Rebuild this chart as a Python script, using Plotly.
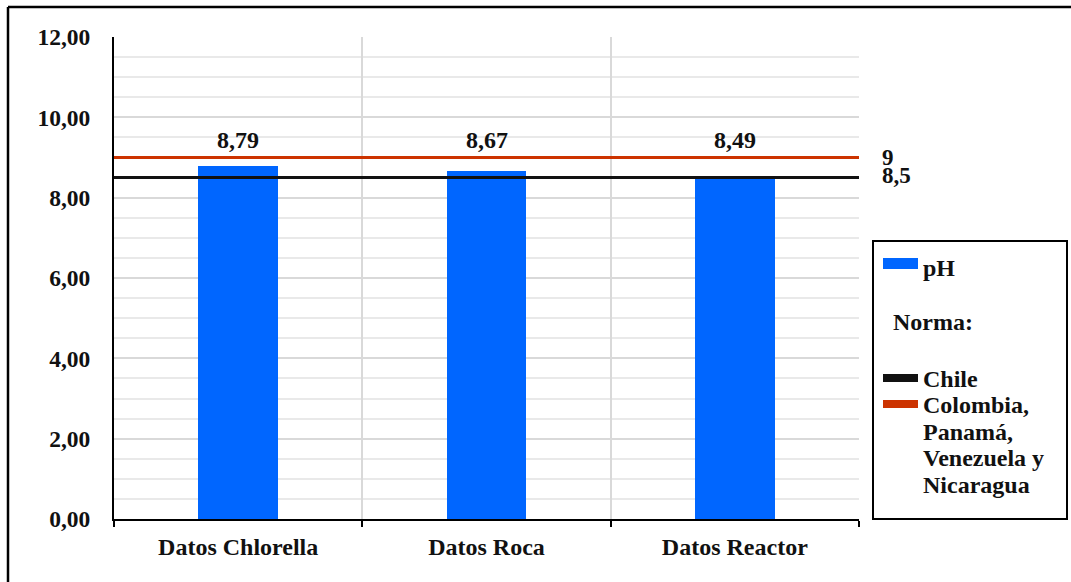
import plotly.graph_objects as go

# Datos de pH por fuente
categorias = ["Datos Chlorella", "Datos Roca", "Datos Reactor"]
ph_valores = [8.79, 8.67, 8.49]

# Límites de la norma
norma_nombres = [["Chile"], ["Colombia,", "Panamá,", "Venezuela y", "Nicaragua"]]
norma_valores = [8.5, 9.0]
norma_colores = ["#111111", "#CC3300"]

y_ticks = [0, 2, 4, 6, 8, 10, 12]

AZUL = "#0066FF"
FONT = "Liberation Serif"
TXT = "#111111"

W, H = 1071, 582
ML, MR, MT, MB = 114, 212, 37, 63
PW, PH = W - ML - MR, H - MT - MB


def px_x(px):
    return (px - ML) / PW


def px_y(py):
    return (H - MB - py) / PH


def fmt(v, dec=2):
    return f"{v:.{dec}f}".replace(".", ",")


def bold(s):
    return f"<b>{s}</b>"


fig = go.Figure()
fig.add_trace(go.Bar(
    x=categorias, y=ph_valores, width=0.32,
    marker=dict(color=AZUL, line=dict(width=0)),
    name="pH", showlegend=False,
))

# Etiquetas de valor sobre las barras
for c, v in zip(categorias, ph_valores):
    fig.add_annotation(x=c, y=9.43, text=bold(fmt(v)), showarrow=False,
                       yanchor="middle", xanchor="center",
                       font=dict(family=FONT, size=24, color=TXT))

shapes = []
# Líneas de la norma y sus valores a la derecha
for v, col in zip(norma_valores, norma_colores):
    shapes.append(dict(type="line", xref="paper", yref="y", x0=0, x1=1, y0=v, y1=v,
                       line=dict(color=col, width=3), layer="above"))
    fig.add_annotation(xref="paper", yref="y", x=px_x(880), y=v,
                       text=bold(f"{v:g}".replace(".", ",")), showarrow=False,
                       xanchor="left", yanchor="middle",
                       yshift=0 if v > 8.75 else 2,
                       font=dict(family=FONT, size=23, color=TXT))

# Marco exterior
shapes.append(dict(type="line", xref="paper", yref="paper",
                   x0=px_x(8), x1=px_x(1080), y0=px_y(7), y1=px_y(7),
                   line=dict(color="black", width=2.5)))
shapes.append(dict(type="line", xref="paper", yref="paper",
                   x0=px_x(8), x1=px_x(8), y0=px_y(7), y1=px_y(600),
                   line=dict(color="black", width=2.5)))

# Leyenda
shapes.append(dict(type="rect", xref="paper", yref="paper",
                   x0=px_x(873), x1=px_x(1067), y0=px_y(519), y1=px_y(241),
                   line=dict(color="black", width=2), fillcolor="white"))
shapes.append(dict(type="rect", xref="paper", yref="paper",
                   x0=px_x(883), x1=px_x(918), y0=px_y(269), y1=px_y(258),
                   line=dict(width=0), fillcolor=AZUL))

leg_font = dict(family=FONT, size=24, color=TXT)
fig.add_annotation(xref="paper", yref="paper", x=px_x(921), y=px_y(268), text=bold("pH"),
                   showarrow=False, xanchor="left", yanchor="middle", font=leg_font)
fig.add_annotation(xref="paper", yref="paper", x=px_x(891), y=px_y(322), text=bold("Norma:"),
                   showarrow=False, xanchor="left", yanchor="middle", font=leg_font)

sw_y = [378, 404]
line_step = 26.7
for yy, lines, col in zip(sw_y, norma_nombres, norma_colores):
    shapes.append(dict(type="rect", xref="paper", yref="paper",
                       x0=px_x(883), x1=px_x(918), y0=px_y(yy + 4), y1=px_y(yy - 4),
                       line=dict(width=0), fillcolor=col))
    for k, ln in enumerate(lines):
        fig.add_annotation(xref="paper", yref="paper", x=px_x(921),
                           y=px_y(yy + 1 + k * line_step),
                           text=bold(ln), showarrow=False, xanchor="left",
                           yanchor="middle", font=leg_font)

axis_font = dict(family=FONT, size=24, color=TXT)
fig.update_layout(
    width=W, height=H,
    margin=dict(l=ML, r=MR, t=MT, b=MB),
    paper_bgcolor="white", plot_bgcolor="white",
    shapes=shapes,
    bargap=0,
    xaxis=dict(
        type="category", tickson="boundaries",
        showgrid=True, gridcolor="#d9d9d9", gridwidth=2,
        showline=True, linecolor="black", linewidth=2,
        ticks="outside", ticklen=6, tickwidth=2, tickcolor="black",
        ticklabelstandoff=5,
        tickprefix="<b>", ticksuffix="</b>",
        tickfont=axis_font,
        range=[-0.5, 2.5],
    ),
    yaxis=dict(
        range=[0, 12], tickvals=y_ticks,
        ticktext=[bold(fmt(t)) for t in y_ticks],
        showgrid=True, gridcolor="#d9d9d9", gridwidth=2,
        minor=dict(dtick=0.5, showgrid=True, gridcolor="#e9e9e9", gridwidth=2),
        showline=True, linecolor="black", linewidth=2,
        zeroline=False, ticks="",
        ticklabelstandoff=17,
        tickfont=dict(family=FONT, size=23.5, color=TXT),
    ),
)

fig.write_html("out.html")
